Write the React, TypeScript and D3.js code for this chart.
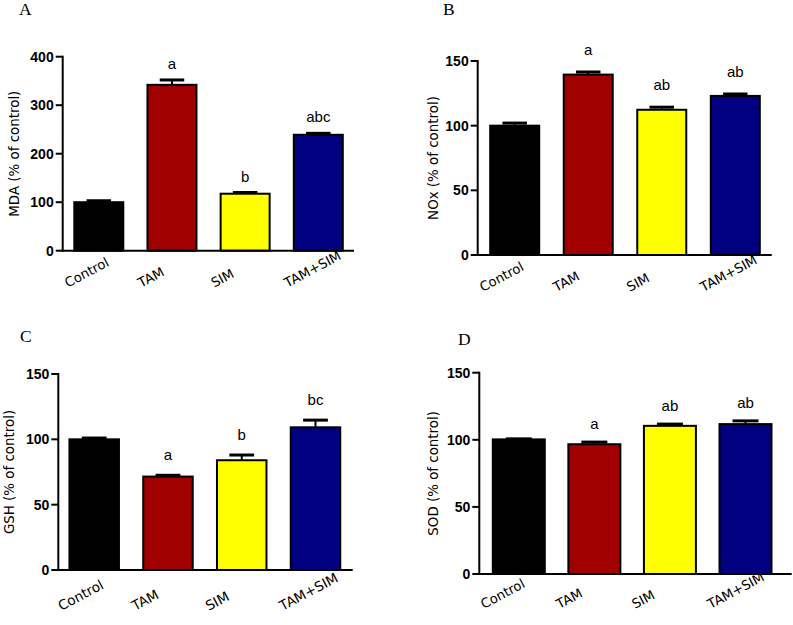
import React from "react";
import * as d3 from "d3";

const categories = ["Control", "TAM", "SIM", "TAM+SIM"];
const barColors = ["#000000", "#a00000", "#ffff00", "#000080"];

const mdaValues = [100, 342, 117.5, 239];
const mdaSem = [3, 10, 2.5, 3];
const mdaLetters = ["", "a", "b", "abc"];
const mdaTicks = [0, 100, 200, 300, 400];

const noxValues = [100, 139.5, 112.3, 123];
const noxSem = [2, 2, 2, 1.5];
const noxLetters = ["", "a", "ab", "ab"];
const noxTicks = [0, 50, 100, 150];

const gshValues = [100, 71.5, 84, 109.2];
const gshSem = [1, 1, 4, 5.5];
const gshLetters = ["", "a", "b", "bc"];
const gshTicks = [0, 50, 100, 150];

const sodValues = [100.3, 96.7, 110.4, 111.7];
const sodSem = [0.4, 1.6, 1.3, 2.4];
const sodLetters = ["", "a", "ab", "ab"];
const sodTicks = [0, 50, 100, 150];

type PanelProps = {
  label: string;
  labelX: number;
  labelY: number;
  yTitle: string;
  yTitleX: number;
  axisX: number;
  xEnd: number;
  yBottom: number;
  yTop: number;
  firstCenter: number;
  lastCenter: number;
  barWidth: number;
  values: number[];
  sem: number[];
  letters: string[];
  ticks: number[];
  letterGap: number;
  xLabelDx: number;
  xLabelDy: number;
  xLabelSize: number;
};

function Panel(p: PanelProps) {
  const max = p.ticks[p.ticks.length - 1];
  const y = d3.scaleLinear().domain([0, max]).range([p.yBottom, p.yTop]);
  const step = (p.lastCenter - p.firstCenter) / (categories.length - 1);
  const pi = 1 - p.barWidth / step;
  const x = d3
    .scaleBand<string>()
    .domain(categories)
    .range([p.firstCenter - step / 2, p.lastCenter + step / 2])
    .paddingInner(pi)
    .paddingOuter(pi / 2);
  const bw = x.bandwidth();
  const capW = bw * 0.5;
  return (
    <g>
      <text
        x={p.labelX}
        y={p.labelY}
        fontFamily="'Liberation Serif', 'Times New Roman', serif"
        fontSize={17.5}
        fill="#000"
      >
        {p.label}
      </text>
      <text
        transform={`translate(${p.yTitleX},${(p.yTop + p.yBottom) / 2}) rotate(-90)`}
        textAnchor="middle"
        dy="0.35em"
        fontFamily="'DejaVu Sans', Verdana, sans-serif"
        fontSize={13.4}
        fill="#000"
      >
        {p.yTitle}
      </text>
      {categories.map((c, i) => {
        const x0 = x(c) as number;
        const top = y(p.values[i]);
        const errTop = y(p.values[i] + p.sem[i]);
        const cx = x0 + bw / 2;
        return (
          <g key={c}>
            <line x1={cx} x2={cx} y1={top} y2={errTop} stroke="#000" strokeWidth={2} />
            <line
              x1={cx - capW / 2}
              x2={cx + capW / 2}
              y1={errTop}
              y2={errTop}
              stroke="#000"
              strokeWidth={3}
            />
            <rect
              x={x0}
              y={top}
              width={bw}
              height={p.yBottom - top}
              fill={barColors[i]}
              stroke="#000"
              strokeWidth={2}
            />
            {p.letters[i] && (
              <text
                x={cx}
                y={errTop - p.letterGap}
                textAnchor="middle"
                fontFamily="'Liberation Sans', Arial, sans-serif"
                fontSize={15}
                fill="#000"
              >
                {p.letters[i]}
              </text>
            )}
            <text
              transform={`translate(${cx + p.xLabelDx},${p.yBottom + p.xLabelDy}) rotate(-28)`}
              textAnchor="start"
              fontFamily="'DejaVu Sans', Verdana, sans-serif"
              fontSize={p.xLabelSize}
              fill="#000"
            >
              {c}
            </text>
          </g>
        );
      })}
      <line x1={p.axisX} x2={p.axisX} y1={p.yTop - 1} y2={p.yBottom + 1} stroke="#000" strokeWidth={2} />
      <line x1={p.axisX - 1} x2={p.xEnd} y1={p.yBottom} y2={p.yBottom} stroke="#000" strokeWidth={2} />
      {p.ticks.map((t) => (
        <g key={t}>
          <line x1={p.axisX - 7} x2={p.axisX} y1={y(t)} y2={y(t)} stroke="#000" strokeWidth={2} />
          <text
            x={p.axisX - 9}
            y={y(t)}
            dy="0.36em"
            textAnchor="end"
            fontFamily="'Liberation Sans', Arial, sans-serif"
            fontWeight="bold"
            fontSize={14}
            fill="#000"
          >
            {t}
          </text>
        </g>
      ))}
    </g>
  );
}

export default function App() {
  return (
    <svg
      width={793}
      height={625}
      style={{ position: "absolute", left: 0, top: 0, background: "#fff" }}
    >
      <rect x={0} y={0} width={793} height={625} fill="#fff" />
      <Panel
        label="A"
        labelX={19}
        labelY={15}
        yTitle="MDA (% of control)"
        yTitleX={14}
        axisX={62.7}
        xEnd={354}
        yBottom={250.7}
        yTop={56.7}
        firstCenter={98.8}
        lastCenter={318.3}
        barWidth={49}
        values={mdaValues}
        sem={mdaSem}
        letters={mdaLetters}
        ticks={mdaTicks}
        letterGap={11}
        xLabelDx={-31}
        xLabelDy={37}
        xLabelSize={13.2}
      />
      <Panel
        label="B"
        labelX={443}
        labelY={15}
        yTitle="NOx (% of control)"
        yTitleX={433}
        axisX={477.7}
        xEnd={771.7}
        yBottom={255}
        yTop={61}
        firstCenter={514.7}
        lastCenter={735.3}
        barWidth={49}
        values={noxValues}
        sem={noxSem}
        letters={noxLetters}
        ticks={noxTicks}
        letterGap={17}
        xLabelDx={-32}
        xLabelDy={37}
        xLabelSize={13.2}
      />
      <Panel
        label="C"
        labelX={20}
        labelY={342}
        yTitle="GSH (% of control)"
        yTitleX={9.5}
        axisX={58.3}
        xEnd={352.7}
        yBottom={570}
        yTop={374}
        firstCenter={94.2}
        lastCenter={315.5}
        barWidth={49.5}
        values={gshValues}
        sem={gshSem}
        letters={gshLetters}
        ticks={gshTicks}
        letterGap={15}
        xLabelDx={-33}
        xLabelDy={41}
        xLabelSize={13.6}
      />
      <Panel
        label="D"
        labelX={458}
        labelY={345}
        yTitle="SOD (% of control)"
        yTitleX={433}
        axisX={479.3}
        xEnd={791.7}
        yBottom={574}
        yTop={372.7}
        firstCenter={518.8}
        lastCenter={745.5}
        barWidth={52}
        values={sodValues}
        sem={sodSem}
        letters={sodLetters}
        ticks={sodTicks}
        letterGap={13}
        xLabelDx={-35}
        xLabelDy={35}
        xLabelSize={13.2}
      />
    </svg>
  );
}
